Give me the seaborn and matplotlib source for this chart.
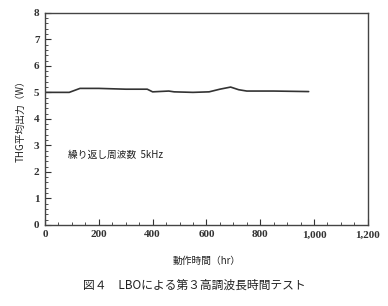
import matplotlib
matplotlib.use("Agg")
import matplotlib.pyplot as plt
from matplotlib.ticker import MultipleLocator
import seaborn as sns
import pandas as pd

hours = [0, 90, 130, 200, 300, 380, 400, 460, 480, 550, 610, 650, 690, 720, 750, 850, 980]
power = [5.0, 5.0, 5.15, 5.15, 5.12, 5.12, 5.02, 5.05, 5.02, 5.0, 5.02, 5.12, 5.2, 5.1, 5.05, 5.05, 5.03]
x_ticks = [0, 200, 400, 600, 800, 1000, 1200]
x_tick_labels = ["0", "200", "400", "600", "800", "1,000", "1,200"]
y_ticks = [0, 1, 2, 3, 4, 5, 6, 7, 8]

sns.set_theme(style="white")
plt.rcParams['font.family'] = ['Noto Sans CJK JP', 'DejaVu Sans']

df = pd.DataFrame({"hours": hours, "power": power})

fig = plt.figure(figsize=(3.88, 3.06), dpi=100)
ax = fig.add_axes([0.116, 0.265, 0.832, 0.693])
sns.lineplot(data=df, x="hours", y="power", ax=ax, color="#333333", linewidth=1.2)

ax.set_xlim(0, 1200)
ax.set_ylim(0, 8)
ax.set_xticks(x_ticks)
ax.set_xticklabels(x_tick_labels)
ax.set_yticks(y_ticks)
ax.xaxis.set_minor_locator(MultipleLocator(50))
ax.yaxis.set_minor_locator(MultipleLocator(0.2))
ax.tick_params(axis="both", which="major", direction="in", length=4, width=0.8,
               labelsize=8, colors="#333333", pad=4)
ax.tick_params(axis="both", which="minor", direction="in", length=2, width=0.6, colors="#333333")
ax.tick_params(bottom=True, left=True, top=False, right=False, which="both")
for lbl in ax.get_xticklabels() + ax.get_yticklabels():
    lbl.set_family(['Liberation Serif', 'DejaVu Serif'])
    lbl.set_fontweight("bold")
for s in ax.spines.values():
    s.set_color("#444444")
    s.set_linewidth(1.0)

ax.set_xlabel("動作時間（hr）", fontsize=7, color="#222222", labelpad=12)
ax.set_ylabel("THG平均出力（W）", fontsize=7, color="#222222", labelpad=6)

ax.text(85, 2.64, "繰り返し周波数  5kHz", fontsize=7, color="#222222", va="center", ha="left")

fig.text(0.5, 0.068, "図４　LBOによる第３高調波長時間テスト", ha="center", va="center",
         fontsize=8.5, color="#222222")

fig.savefig("out.png", dpi=100)
